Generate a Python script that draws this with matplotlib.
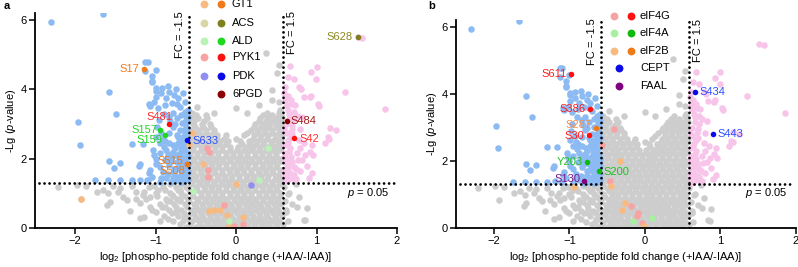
import matplotlib
matplotlib.use('Agg')
import matplotlib.pyplot as plt
import numpy as np

plt.rcParams['font.family'] = ['Liberation Sans', 'DejaVu Sans']
plt.rcParams['mathtext.fontset'] = 'custom'
plt.rcParams['mathtext.rm'] = 'Liberation Sans'
plt.rcParams['mathtext.it'] = 'Liberation Sans:italic'
plt.rcParams['font.size'] = 8

# ---- data ----
fc_thr = np.log2(1.5)
p_thr = -np.log10(0.05)

# significant, down (blue)
down_x = [-2.30, -1.66, -1.58, -1.49, -1.97, -1.94, -1.58, -1.44, -1.52, -1.29, -1.16, -1.20, -1.21, -1.08, -1.02,
          -1.75, -1.59, -1.44, -1.29, -1.19, -1.11, -1.13, -1.10, -1.13, -1.00, -1.05, -1.04, -0.99, -0.99, -1.08,
          -1.07, -1.07, -1.05, -0.99, -0.93, -0.87, -0.83, -0.77, -0.74, -0.72, -0.70, -0.66, -0.64, -0.79, -0.83,
          -0.74, -0.68, -0.64, -0.62, -0.79, -0.70, -0.64, -0.62, -0.83, -0.74, -0.66, -0.99, -0.91, -0.95, -0.83,
          -0.72, -0.64, -1.03, -0.87, -0.79, -0.70, -0.66, -0.89, -0.74, -0.99, -0.83, -0.68, -1.07, -0.91, -0.77,
          -0.66, -1.05, -0.87, -0.74, -0.62, -1.10, -0.95, -0.81, -0.68, -0.62, -0.61, -0.63, -0.61, -0.62, -0.60,
          -0.61, -0.62, -0.60, -0.72, -0.85, -0.95, -0.80, -0.90, -0.76, -0.70, -0.95, -1.00, -0.78, -0.70, -0.96,
          -0.90, -0.97, -0.88, -0.80, -0.75, -0.92, -0.85, -1.02, -0.67, -0.65, -0.71, -0.86, -0.93, -0.69, -0.63,
          -0.60, -0.65, -0.69, -0.73, -0.60, -0.64, -0.68, -0.77, -0.60, -0.66, -0.71, -0.81, -0.60, -0.63, -0.67,
          -0.75, -0.85, -0.61, -0.69, -0.78, -0.88, -0.64, -0.72, -0.93, -0.61, -0.67, -0.76, -0.82, -0.98, -0.60]
down_y = [5.95, 6.17, 3.93, 3.30, 3.05, 2.40, 1.92, 1.87, 1.74, 2.43, 2.43, 1.85, 1.78, 1.58, 2.11,
          1.37, 1.37, 1.37, 1.37, 1.39, 1.37, 4.78, 4.78, 4.52, 4.56, 4.39, 4.25, 4.04, 3.96, 3.57,
          3.51, 3.54, 4.22, 3.78, 3.88, 3.74, 3.93, 3.83, 3.59, 3.74, 3.50, 3.88, 3.64, 3.31, 3.21,
          3.16, 3.26, 3.35, 3.11, 2.92, 2.82, 2.82, 2.92, 2.73, 2.68, 2.63, 2.63, 2.58, 2.44, 2.44,
          2.44, 2.34, 2.25, 2.25, 2.20, 2.15, 2.01, 1.96, 1.91, 1.86, 1.82, 1.82, 1.67, 1.62, 1.58,
          1.58, 1.48, 1.43, 1.38, 1.38, 1.38, 1.33, 1.33, 1.33, 1.55, 1.75, 1.95, 2.15, 2.55, 2.70,
          3.05, 3.25, 3.40, 1.72, 1.55, 1.75, 2.05, 2.35, 2.30, 2.55, 2.15, 2.00, 1.45, 1.45, 3.10,
          3.30, 3.45, 3.55, 3.60, 4.00, 4.05, 4.10, 3.62, 2.05, 1.48, 1.95, 2.00, 1.45, 2.30, 2.48,
          1.42, 1.40, 1.52, 1.48, 1.62, 1.70, 1.65, 1.70, 1.85, 1.88, 1.80, 1.92, 2.05, 2.22, 2.28,
          2.10, 2.12, 2.42, 2.40, 2.38, 2.52, 2.73, 2.62, 2.75, 2.85, 3.02, 3.00, 3.08, 2.90, 3.20]

# significant, up (pink)
up_x = [1.57, 1.51, 0.67, 1.00, 0.93, 0.99, 0.61, 0.78, 0.81, 1.35, 0.64, 0.84, 0.93, 0.68, 0.69,
        1.85, 0.65, 0.72, 0.76, 0.82, 0.70, 1.24, 1.14, 1.11, 0.65, 0.61, 0.675, 0.61, 0.76, 0.86,
        0.96, 0.61, 0.70, 0.65, 0.61, 0.675, 0.72, 0.61, 1.17, 0.94, 0.92, 0.94, 0.82, 0.72, 0.62,
        0.63, 0.66, 0.63, 0.63, 0.66, 0.75, 0.62, 0.80, 0.78, 0.70, 0.74, 0.80, 0.88, 0.85, 0.66,
        0.73, 0.63, 0.60, 0.72, 0.64, 0.90, 0.68, 0.77, 1.02, 1.03, 0.92, 1.16, 0.69, 0.64, 0.71,
        0.60, 0.63, 0.67, 0.60, 0.64, 0.68, 0.60, 0.66, 0.71, 0.61, 0.64, 0.79]
up_y = [5.47, 5.50, 4.67, 4.65, 4.49, 4.31, 4.07, 4.07, 4.00, 3.93, 3.81, 3.78, 3.81, 3.69, 3.59,
        3.44, 3.40, 3.35, 3.24, 3.19, 2.97, 2.82, 2.61, 2.44, 2.54, 2.39, 2.30, 2.15, 2.15, 2.10,
        2.10, 1.96, 1.91, 1.77, 1.67, 1.58, 1.53, 1.48, 2.87, 2.39, 2.20, 1.58, 1.96, 1.77, 3.00,
        2.75, 2.20, 2.00, 1.85, 1.42, 1.40, 1.35, 2.30, 2.55, 2.70, 1.70, 1.65, 1.80, 2.45, 3.15,
        3.55, 3.55, 3.90, 4.30, 4.35, 1.45, 2.05, 1.95, 3.57, 3.52, 3.77, 2.58, 2.85, 1.62, 1.42,
        1.55, 1.72, 1.88, 2.05, 2.45, 2.62, 2.85, 3.30, 3.10, 3.70, 1.40, 2.85]

# not significant (grey), typed row by row
grey_row_y = [0.03, 0.11, 0.19, 0.27, 0.36, 0.44, 0.52, 0.60, 0.69, 0.77, 0.85, 0.93, 1.02, 1.10,
              1.18, 1.26, 1.34, 1.42, 1.51, 1.59, 1.67, 1.75, 1.84, 1.92, 2.00, 2.08, 2.17, 2.25,
              2.34, 2.42, 2.50, 2.58, 2.67, 2.75, 2.84, 2.92, 3.00, 3.08, 3.17, 3.25, 3.33]
grey_row_x = [
    [-0.62, -0.50, -0.41, -0.30, -0.21, -0.12, -0.03, 0.06, 0.15, 0.24, 0.33, 0.42, 0.51],
    [-0.70, -0.57, -0.45, -0.35, -0.25, -0.16, -0.06, 0.04, 0.13, 0.22, 0.31, 0.40, 0.49, 0.58],
    [-0.78, -0.66, -0.55, -0.46, -0.37, -0.28, -0.19, -0.10, -0.01, 0.08, 0.17, 0.26, 0.35, 0.44, 0.53, 0.64],
    [-0.85, -0.60, -0.49, -0.40, -0.31, -0.22, -0.13, -0.04, 0.05, 0.14, 0.23, 0.32, 0.41, 0.50],
    [-0.90, -0.72, -0.60, -0.51, -0.42, -0.33, -0.24, -0.15, -0.06, 0.03, 0.12, 0.21, 0.30, 0.39, 0.48, 0.57],
    [-0.80, -0.65, -0.54, -0.44, -0.35, -0.26, -0.17, -0.08, 0.01, 0.10, 0.19, 0.28, 0.37, 0.46, 0.55],
    [-1.05, -0.84, -0.69, -0.56, -0.47, -0.38, -0.29, -0.20, -0.11, -0.02, 0.07, 0.16, 0.25, 0.34, 0.43, 0.52, 0.62],
    [-0.92, -0.75, -0.61, -0.50, -0.41, -0.32, -0.23, -0.14, -0.05, 0.04, 0.13, 0.22, 0.31, 0.40, 0.49],
    [-0.95, -0.77, -0.64, -0.52, -0.43, -0.34, -0.25, -0.16, -0.07, 0.02, 0.11, 0.20, 0.29, 0.38, 0.47, 0.56, 0.70],
    [-0.86, -0.70, -0.58, -0.47, -0.38, -0.29, -0.20, -0.11, -0.02, 0.07, 0.16, 0.25, 0.34, 0.43, 0.52, 0.61],
    [-1.12, -0.87, -0.73, -0.60, -0.48, -0.39, -0.30, -0.21, -0.12, -0.03, 0.06, 0.15, 0.24, 0.33, 0.42, 0.51],
    [-0.98, -0.78, -0.64, -0.53, -0.44, -0.35, -0.26, -0.17, -0.08, 0.01, 0.10, 0.19, 0.28, 0.37, 0.46, 0.55],
    [-1.00, -0.82, -0.68, -0.55, -0.44, -0.35, -0.26, -0.17, -0.08, 0.01, 0.10, 0.19, 0.28, 0.37, 0.46, 0.55, 0.66],
    [-0.88, -0.72, -0.59, -0.48, -0.39, -0.30, -0.21, -0.12, -0.03, 0.06, 0.15, 0.24, 0.33, 0.42, 0.51],
    [-1.08, -0.91, -0.75, -0.62, -0.50, -0.40, -0.31, -0.22, -0.13, -0.04, 0.05, 0.14, 0.23, 0.32, 0.41, 0.50, 0.59],
    [-0.82, -0.68, -0.56, -0.45, -0.36, -0.27, -0.18, -0.09, 0.00, 0.09, 0.18, 0.27, 0.36, 0.45, 0.54],
    [-0.55, -0.46, -0.37, -0.28, -0.19, -0.10, -0.01, 0.08, 0.17, 0.26, 0.35, 0.44, 0.53],
    [-0.51, -0.42, -0.33, -0.24, -0.15, -0.06, 0.03, 0.12, 0.21, 0.30, 0.39, 0.48, 0.56],
    [-0.57, -0.50, -0.41, -0.32, -0.23, -0.14, -0.05, 0.04, 0.13, 0.22, 0.31, 0.40, 0.49, 0.57],
    [-0.53, -0.44, -0.35, -0.26, -0.17, -0.08, 0.01, 0.10, 0.19, 0.28, 0.37, 0.46, 0.55],
    [-0.54, -0.45, -0.36, -0.27, -0.18, -0.09, 0.00, 0.09, 0.18, 0.27, 0.36, 0.45, 0.54],
    [-0.56, -0.49, -0.40, -0.31, -0.22, -0.13, -0.04, 0.05, 0.14, 0.23, 0.32, 0.41, 0.50],
    [-0.57, -0.48, -0.39, -0.30, -0.21, -0.12, -0.03, 0.06, 0.15, 0.24, 0.33, 0.42, 0.51],
    [-0.52, -0.43, -0.34, -0.25, -0.16, -0.07, 0.02, 0.11, 0.20, 0.29, 0.38, 0.47, 0.56],
    [-0.54, -0.44, -0.35, -0.26, -0.17, -0.08, 0.01, 0.10, 0.19, 0.28, 0.37, 0.46, 0.55],
    [-0.57, -0.49, -0.40, -0.31, -0.22, -0.13, -0.04, 0.05, 0.14, 0.23, 0.32, 0.41, 0.50],
    [-0.57, -0.49, -0.40, -0.31, -0.22, -0.13, -0.04, 0.05, 0.14, 0.23, 0.32, 0.41, 0.50],
    [-0.53, -0.44, -0.35, -0.26, -0.17, -0.08, 0.01, 0.10, 0.19, 0.28, 0.37, 0.46, 0.55],
    [-0.53, -0.44, -0.35, -0.26, -0.17, -0.08, 0.02, 0.12, 0.21, 0.30, 0.39, 0.48, 0.56],
    [-0.57, -0.48, -0.39, -0.30, -0.21, -0.12, 0.07, 0.17, 0.25, 0.34, 0.43, 0.52],
    [-0.56, -0.47, -0.38, -0.29, -0.20, -0.10, 0.05, 0.16, 0.26, 0.35, 0.44, 0.53],
    [-0.52, -0.42, -0.33, -0.24, -0.15, 0.00, 0.21, 0.30, 0.39, 0.48, 0.56],
    [-0.53, -0.43, -0.33, -0.24, -0.13, 0.10, 0.22, 0.31, 0.40, 0.49, 0.57],
    [-0.57, -0.48, -0.38, -0.28, 0.14, 0.26, 0.35, 0.44, 0.53],
    [-0.56, -0.46, -0.37, -0.27, 0.18, 0.27, 0.36, 0.45, 0.54],
    [-0.51, -0.41, -0.31, 0.22, 0.31, 0.40, 0.49, 0.57],
    [-0.54, -0.43, -0.33, 0.24, 0.33, 0.42, 0.51],
    [-0.52, -0.40, 0.28, 0.37, 0.46, 0.55],
    [-0.56, -0.47, -0.36, 0.30, 0.40, 0.50, 0.57],
    [-0.50, -0.38, 0.34, 0.45, 0.56],
    [-0.55, -0.27, 0.14, 0.38, 0.53],
]
grey_extra_x = [-0.48, 0.45, 0.53, 0.55, 0.45, 0.51, 0.53, 0.37, 0.28, 0.00,
                -2.21, -1.98, -1.86, -1.73, -1.59, -1.57, -1.60, -1.47, -1.40, -1.36, -1.32, -1.24, -1.20,
                -1.14, -1.07, -1.07, -1.14, -1.20, -1.65, -1.53, -1.44, -1.30, -1.25, -1.00, -0.95, -1.93,
                -0.80, -0.70, -0.88, -0.65, -0.75, -0.82, -0.97, -0.70, -1.16, -1.02,
                0.74, 0.88, 0.84, 0.65, 0.76, 0.62, 0.86, 0.78]
grey_extra_y = [3.50, 3.69, 3.64, 3.40, 3.98, 4.46, 4.70, 5.05, 3.55, 3.45,
                1.19, 1.24, 1.21, 1.05, 1.00, 0.76, 0.66, 1.05, 0.90, 0.81, 0.50, 1.05, 0.71,
                1.05, 0.90, 0.61, 0.33, 0.28, 1.10, 1.20, 1.15, 1.20, 0.85, 0.45, 0.20, 0.84,
                0.95, 1.10, 0.62, 0.28, 0.45, 0.78, 1.10, 0.85, 0.95, 1.22,
                1.27, 0.58, 0.23, 0.98, 0.61, 0.45, 0.22, 0.90]

# light-coloured (non-significant) protein sites, panel a
a_light = {
    'GT1': ([-1.93, -0.55, -0.59, -0.41, 0.00, -0.34, -0.28, -0.20, -0.11, -0.09, 0.08],
            [0.84, 2.75, 2.39, 1.84, 1.28, 0.49, 0.53, 0.53, 0.37, 0.05, 0.33]),
    'ALD': ([-0.54, -0.09, 0.28, 0.40], [1.07, 0.20, 1.38, 2.30]),
    'PYK1': ([-0.36, -0.34, -0.35, -0.35, -0.15, -0.03, 0.08], [2.30, 2.18, 1.67, 1.48, 0.66, 0.07, 0.12]),
    'PDK': ([0.18], [1.24]),
}
# labelled sites, panel a: (name, group, x, y)
a_sites = [('S17', 'GT1', -1.14, 4.59), ('S481', 'PYK1', -0.83, 2.99), ('S157', 'ALD', -0.94, 2.84),
           ('S159', 'ALD', -0.88, 2.68), ('S633', 'PDK', -0.61, 2.54), ('S515', 'GT1', -0.61, 1.86),
           ('S508', 'GT1', -0.61, 1.84), ('S628', 'ACS', 1.51, 5.50), ('S484', '6PGD', 0.63, 3.09),
           ('S42', 'PYK1', 0.72, 2.60)]

b_light = {
    'eIF4G': ([-0.41, -0.57, -0.46, -0.19, -0.09, -0.10, -0.04], [2.96, 2.48, 1.41, 0.65, 0.44, 0.36, 0.16]),
    'eIF4A': ([-0.16, 0.09, -0.03], [0.21, 0.29, 0.04]),
    'eIF2B': ([-0.33, -0.45, -0.94, -0.26, -0.30, -0.01], [2.00, 1.26, 1.23, 0.74, 0.54, 0.05]),
}
b_sites = [('S611', 'eIF4G', -0.98, 4.60), ('S386', 'eIF4G', -0.72, 3.56), ('S287', 'eIF2B', -0.65, 3.00),
           ('S30', 'eIF4G', -0.74, 2.78), ('Y203', 'eIF4A', -0.76, 1.98), ('S200', 'eIF4A', -0.61, 1.71),
           ('S130', 'FAAL', -0.81, 1.41), ('S434', 'CEPT', 0.66, 4.06), ('S443', 'CEPT', 0.90, 2.80)]

# ---- styles ----
light_col = {'GT1': '#f7bb82', 'ACS': '#d9d6a6', 'ALD': '#b9f2b4', 'PYK1': '#f7a3a3', 'PDK': '#8f8ff2',
             'eIF4G': '#f7a3a3', 'eIF4A': '#a6f0a0', 'eIF2B': '#f7bb82'}
dark_col = {'GT1': '#f07a1a', 'ACS': '#7f7f1c', 'ALD': '#1ed81e', 'PYK1': '#ff1010', 'PDK': '#0a0ae8',
            '6PGD': '#8b0000', 'eIF4G': '#ff1010', 'eIF4A': '#10b810', 'eIF2B': '#f07a1a',
            'CEPT': '#0a0ae8', 'FAAL': '#800080'}
text_col = {'GT1': '#f07a1a', 'ACS': '#8a8a22', 'ALD': '#22d822', 'PYK1': '#ff3030', 'PDK': '#2a50ff',
            '6PGD': '#a01818', 'eIF4G': '#ff2020', 'eIF4A': '#20c020', 'eIF2B': '#f59050',
            'CEPT': '#2a50ff', 'FAAL': '#7a1a8a'}
# label offsets in pixels (dx, dy, ha)
a_off = {'S17': (-5, 0, 'right'), 'S481': (3, 7, 'right'), 'S157': (-3, 0, 'right'),
         'S159': (-3, -5, 'right'), 'S633': (5, -1, 'left'), 'S515': (-4, 3, 'right'),
         'S508': (-2, -7, 'right'), 'S628': (-5, 0, 'right'), 'S484': (4, 0, 'left'),
         'S42': (5, -1, 'left')}
b_off = {'S611': (-4, 0, 'right'), 'S386': (-5, 0, 'right'), 'S287': (-4, 2, 'right'),
         'S30': (-5, -1, 'right'), 'Y203': (-5, 0, 'right'), 'S200': (5, -1, 'left'),
         'S130': (-3, 2, 'right'), 'S434': (5, 0, 'left'), 'S443': (5, 0, 'left')}

grey_x = [x for row in grey_row_x for x in row] + grey_extra_x
grey_y = [y for row, y in zip(grey_row_x, grey_row_y) for _ in row] + grey_extra_y

fig = plt.figure(figsize=(7.98, 2.67), dpi=100)
ax_a = fig.add_axes([35 / 798, 39 / 267, 362 / 798, 215 / 267])
ax_b = fig.add_axes([456 / 798, 39 / 267, 340 / 798, 207.7 / 267])


def volcano(ax, light, sites, offs):
    ax.scatter(grey_x, grey_y, s=22, color='#cdcdcd', linewidths=0, zorder=1)
    ax.scatter(down_x, down_y, s=22, color='#8cbaf2', linewidths=0, zorder=1)
    ax.scatter(up_x, up_y, s=22, color='#f7c4ea', linewidths=0, zorder=1)
    for g, (xs, ys) in light.items():
        ax.scatter(xs, ys, s=22, color=light_col[g], linewidths=0, zorder=2)
    dot = dict(linestyle=(0, (0.01, 1.8)), dash_capstyle='round', color='black', linewidth=2.0, zorder=3)
    ax.axvline(-fc_thr, **dot)
    ax.axvline(fc_thr, **dot)
    ax.plot([-2.45, -fc_thr], [p_thr, p_thr], **dot)
    ax.plot([fc_thr, 1.96], [p_thr, p_thr], **dot)
    for name, g, x, y in sites:
        ax.scatter([x], [y], s=16, color=dark_col[g], linewidths=0, zorder=4)
        dx, dy, ha = offs[name]
        ax.annotate(name, (x, y), xytext=(dx, dy), textcoords='offset pixels', ha=ha, va='center',
                    color=text_col[g], fontsize=8, zorder=5)
    ax.set_xlim(-2.5, 2)
    ax.set_ylim(0, 6.2)
    ax.set_xticks([-2, -1, 0, 1, 2])
    ax.set_yticks([0, 2, 4, 6])
    for s in ['top', 'right']:
        ax.spines[s].set_visible(False)
    for s in ['left', 'bottom']:
        ax.spines[s].set_linewidth(1.3)
    ax.tick_params(width=1.1, length=4, labelsize=8, pad=2)
    ax.set_xlabel(r'log$_2$ [phospho-peptide fold change (+IAA/-IAA)]', fontsize=8, labelpad=3)
    ax.set_ylabel(r'-Lg ($p$-value)', fontsize=8, labelpad=2)
    ax.text(-0.70, 6.25, 'FC = -1.5', rotation=90, ha='center', va='top', fontsize=8)
    ax.text(0.70, 6.25, 'FC = 1.5', rotation=90, ha='center', va='top', fontsize=8)


volcano(ax_a, a_light, a_sites, a_off)
volcano(ax_b, b_light, b_sites, b_off)
ax_a.text(1.91, 1.01, r'$p$ = 0.05', ha='right', va='center', fontsize=8)
ax_b.text(1.89, 1.04, r'$p$ = 0.05', ha='right', va='center', fontsize=8)


def legend(ax, rows, ys, c1, c2, ct, csingle):
    for (name, has_light), y in zip(rows, ys):
        if has_light:
            ax.scatter([c1], [y], s=32, color=light_col[name], linewidths=0, transform=ax.transAxes, clip_on=False)
            ax.scatter([c2], [y], s=32, color=dark_col[name], linewidths=0, transform=ax.transAxes, clip_on=False)
        else:
            ax.scatter([csingle], [y], s=32, color=dark_col[name], linewidths=0, transform=ax.transAxes,
                       clip_on=False)
        ax.text(ct, y, name, transform=ax.transAxes, va='center', ha='left', fontsize=8)


legend(ax_a, [('GT1', 1), ('ACS', 1), ('ALD', 1), ('PYK1', 1), ('PDK', 1), ('6PGD', 0)],
       [1.040, 0.955, 0.870, 0.794, 0.707, 0.623], 0.467, 0.514, 0.544, 0.514)
legend(ax_b, [('eIF4G', 1), ('eIF4A', 1), ('eIF2B', 1), ('CEPT', 0), ('FAAL', 0)],
       [1.021, 0.937, 0.854, 0.769, 0.684], 0.465, 0.515, 0.541, 0.479)

fig.text(0.004, 0.965, 'a', fontweight='bold', fontsize=8)
fig.text(0.537, 0.965, 'b', fontweight='bold', fontsize=8)

fig.savefig('out.png', dpi=100)
